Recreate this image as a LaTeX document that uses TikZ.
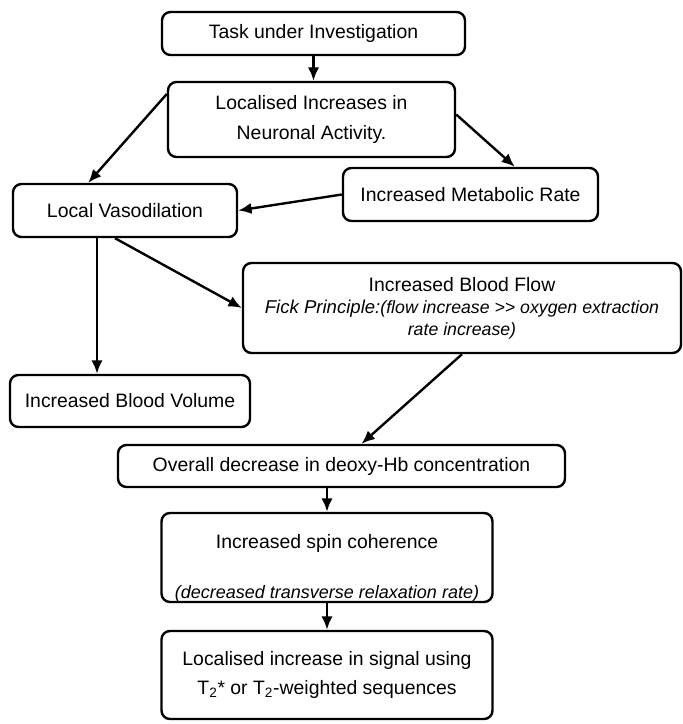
\documentclass[tikz,border=0pt]{standalone}
\usepackage{fontspec}
\setmainfont{Liberation Sans}
\usetikzlibrary{positioning, calc, arrows.meta}

\def\unitpx{0.025cm}

\begin{document}
\begin{tikzpicture}[x=0.025cm, y=-0.025cm, >={Latex[length=9.5pt,width=8pt]}]

    \tikzstyle{box}=[draw, rounded corners=6pt, line width=1.7pt, inner sep=0pt, align=center, font=\fontsize{13.8pt}{21pt}\selectfont]
    \tikzstyle{note}=[inner sep=0pt, align=center, font=\fontsize{12.8pt}{15pt}\selectfont\itshape]
    \tikzstyle{link}=[->, line width=1.7pt]

    \useasboundingbox (0,0) rectangle (683,724);

    \node[box, minimum width=303*\unitpx, minimum height=43*\unitpx] (task) at (313.5,33.5) {Task under Investigation};
    \node[box, minimum width=287*\unitpx, minimum height=75*\unitpx] (neuro) at (311.5,119.5) {Localised Increases in\\Neuronal Activity.};

    \node[box, minimum width=224*\unitpx, minimum height=53*\unitpx] (vaso) at (125,210.5) {Local Vasodilation};
    \node[box, minimum width=255*\unitpx, minimum height=53*\unitpx] (metab) at (470.5,194.5) {Increased Metabolic Rate};

    \node[box, minimum width=438*\unitpx, minimum height=90*\unitpx, font=\fontsize{13.8pt}{15.6pt}\selectfont] (flow) at (462,308)
        {Increased Blood Flow\\
        {\fontsize{13.2pt}{15.6pt}\selectfont\itshape Fick Principle:}{\fontsize{12.6pt}{15.6pt}\selectfont\itshape(flow increase >{}> oxygen extraction}\\
        {\fontsize{12.6pt}{15.6pt}\selectfont\itshape rate increase)}};
    \node[box, minimum width=240*\unitpx, minimum height=52*\unitpx] (volume) at (130,401) {Increased Blood Volume};

    \node[box, minimum width=447*\unitpx, minimum height=42*\unitpx] (deoxy) at (341.5,466) {Overall decrease in deoxy-Hb concentration};

    \node[box, minimum width=331*\unitpx, minimum height=89*\unitpx] (spin) at (327,557.5) {};
    \node[inner sep=0pt, font=\fontsize{13.8pt}{21pt}\selectfont] (spintext) at (327,543) {Increased spin coherence};
    \node[note] (spinnote) at (327,594) {(decreased transverse relaxation rate)};

    \node[box, minimum width=331*\unitpx, minimum height=88*\unitpx] (signal) at (327,675) {Localised increase in signal using\\T\textsubscript{2}* or T\textsubscript{2}-weighted sequences};

    % arrows
    \draw[link] (task.south) -- (task.south |- neuro.north);
    \draw[link] (neuro.170) -- (vaso.143);
    \draw[link] (neuro.2) -- (metab.32);
    \draw[link] (metab.west) -- (vaso.east);
    \draw[link] ([xshift=-0.7cm]vaso.south) -- ([xshift=-0.7cm]vaso.south |- volume.north);
    \draw[link] ([xshift=-0.25cm]vaso.south) -- (flow.west);
    \draw[link] (flow.south) -- ([xshift=0.5cm]deoxy.north);
    \draw[link] (spin.north |- deoxy.south) -- (spin.north);
    \draw[link] (spin.south) -- (signal.north);

\end{tikzpicture}
\end{document}
